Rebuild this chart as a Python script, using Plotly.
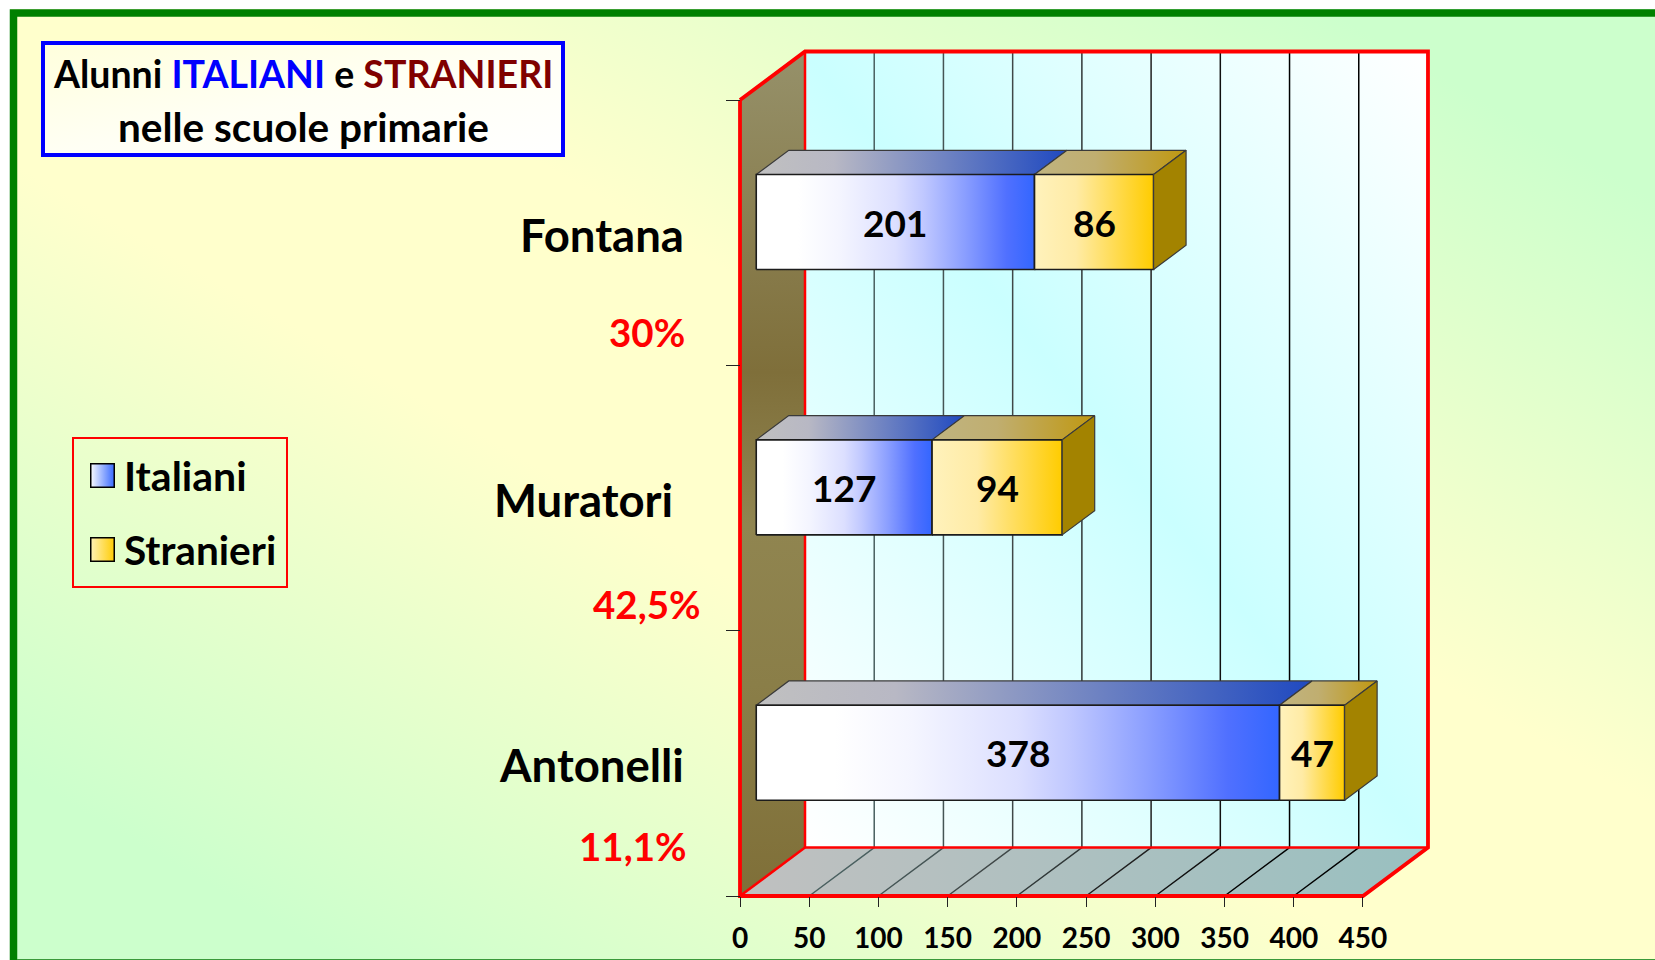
import base64
import plotly.graph_objects as go

# ---------- data ----------
categories = ["Antonelli", "Muratori", "Fontana"]
italiani = [378, 127, 201]
stranieri = [47, 94, 86]
percentuali = ["11,1%", "42,5%", "30%"]
x_ticks = [0, 50, 100, 150, 200, 250, 300, 350, 400, 450]
series_names = ["Italiani", "Stranieri"]
grid_colors = ["#4A6060", "#455555", "#404848", "#303838", "#202020", "#101010", "#000000", "#000000"]

# ---------- geometry ----------
W, H = 1655, 960
X0_PX, UNIT_PX = 740.0, 1.3844      # x value 0 position and px per unit
Y0_PX, SLOT_PX = 896.0, 265.33      # y slot 0 position and px per slot
WALL_DX = 65 / UNIT_PX
WALL_DY = 48.5 / SLOT_PX
BAR_FRONT = 0.25
BAR_DEPTH = 0.50
BAR_H = 95 / SLOT_PX
BAR_SHIFT = -1.5 / SLOT_PX
FONT = "Lato"


def fx(p):
    return p / W


def fy(p):
    return 1 - p / H


def svg_gradient(stops, x1=0, y1=1, x2=1, y2=0, border=None):
    st = "".join(f'<stop offset="{o}" stop-color="{c}"/>' for o, c in stops)
    b = f'stroke="{border}" stroke-width="24"' if border else ""
    svg = (f'<svg xmlns="http://www.w3.org/2000/svg" width="200" height="200" preserveAspectRatio="none">'
           f'<defs><linearGradient id="g" x1="{x1}" y1="{y1}" x2="{x2}" y2="{y2}">{st}</linearGradient></defs>'
           f'<rect width="200" height="200" fill="url(#g)" {b}/></svg>')
    return "data:image/svg+xml;base64," + base64.b64encode(svg.encode()).decode()


fig = go.Figure()


def poly(xs, ys, grad, line_color=None, line_width=1, gtype="horizontal"):
    fig.add_trace(go.Scatter(
        x=list(xs) + [xs[0]], y=list(ys) + [ys[0]], mode="lines", fill="toself",
        fillgradient=dict(type=gtype, colorscale=grad),
        line=dict(color=line_color or "rgba(0,0,0,0)", width=line_width),
        hoverinfo="skip", showlegend=False))


X_END = x_ticks[-1]
Y_END = len(categories)

# left wall (gradient runs from the floor upward)
poly([0, WALL_DX, WALL_DX, 0], [0, WALL_DY, Y_END + WALL_DY, Y_END],
     [[0, "#7F6F38"], [0.25, "#8A7E48"], [0.44, "#908550"], [0.62, "#7F6F3A"], [1, "#96916A"]],
     gtype="vertical")
# floor
poly([0, X_END, X_END + WALL_DX, WALL_DX], [0, 0, WALL_DY, WALL_DY],
     [[0, "#C0C0C0"], [1, "#99C0C0"]])

# grid on back wall and floor
for v, c in zip(x_ticks[1:-1], grid_colors):
    fig.add_trace(go.Scatter(
        x=[v, v + WALL_DX, v + WALL_DX], y=[0, WALL_DY, Y_END + WALL_DY], mode="lines",
        line=dict(color=c, width=1.5), hoverinfo="skip", showlegend=False))

# red edges
fig.add_trace(go.Scatter(
    x=[0, WALL_DX, X_END + WALL_DX, X_END + WALL_DX, X_END, 0, 0],
    y=[Y_END, Y_END + WALL_DY, Y_END + WALL_DY, WALL_DY, 0, 0, Y_END],
    mode="lines", line=dict(color="#FF0000", width=3.8), hoverinfo="skip", showlegend=False))
fig.add_trace(go.Scatter(
    x=[WALL_DX, WALL_DX, X_END + WALL_DX, None, WALL_DX, 0],
    y=[Y_END + WALL_DY, WALL_DY, WALL_DY, None, WALL_DY, 0],
    mode="lines", line=dict(color="#FF0000", width=2.5), hoverinfo="skip", showlegend=False))

# 3-D stacked bars
front_dx, front_dy = WALL_DX * BAR_FRONT, WALL_DY * BAR_FRONT
depth_dx, depth_dy = WALL_DX * BAR_DEPTH, WALL_DY * BAR_DEPTH
face = {
    "Italiani": [[0, "#FFFFFF"], [0.15, "#FFFFFF"], [0.3, "#F4F5FF"], [0.5, "#DCDFFF"],
                 [0.6, "#C0C8FF"], [0.75, "#8A9EFF"], [0.9, "#5070FF"], [1, "#3366FF"]],
    "Stranieri": [[0, "#FFF2BC"], [0.35, "#FFEBA5"], [1, "#FFCC00"]],
}
top = {
    "Italiani": [[0, "#C0C0C0"], [0.25, "#B8B8C4"], [1, "#1F49C0"]],
    "Stranieri": [[0, "#C0B480"], [0.4, "#C0AE70"], [1, "#C09810"]],
}
SIDE = [[0, "#A38300"], [1, "#A38300"]]
EDGE = "#1C1C1C"
ann = []
for k in range(len(categories)):
    start = 0
    y0 = k + 0.5 - BAR_H / 2 + front_dy + BAR_SHIFT
    y1 = y0 + BAR_H
    for name, vals in zip(series_names, [italiani, stranieri]):
        v = vals[k]
        a = start + front_dx
        b = start + v + front_dx
        poly([a, b, b + depth_dx, a + depth_dx], [y1, y1, y1 + depth_dy, y1 + depth_dy],
             top[name], "#3A3A3A", 1.2)
        poly([a, b, b, a], [y0, y0, y1, y1], face[name], EDGE, 1.6)
        ann.append(dict(text=str(v), x=(a + b) / 2, y=(y0 + y1) / 2, xref="x", yref="y",
                        xanchor="center", yanchor="middle", showarrow=False,
                        font=dict(family=FONT, size=37, color="#000000", weight="bold")))
        start += v
    end = start + front_dx
    poly([end, end + depth_dx, end + depth_dx, end],
         [y0, y0 + depth_dy, y1 + depth_dy, y1], SIDE, "#3A3A3A", 1.2)


# ---------- texts ----------
def note(text, x_px, y_px, size, color="#000000", anchor="center"):
    ann.append(dict(text=text, x=fx(x_px), y=fy(y_px), xref="paper", yref="paper",
                    xanchor=anchor, yanchor="middle", showarrow=False,
                    font=dict(family=FONT, size=size, color=color, weight="bold")))


note("Alunni <span style='color:#0000FF'>ITALIANI</span> e "
     "<span style='color:#800000'>STRANIERI</span>", 303, 73.5, 37.5)
note("nelle scuole primarie", 303, 126.5, 40.5)
for cat, pct, rx, ry, prx, pry in zip(categories, percentuali,
                                      [686, 675, 686], [764, 499.5, 234.5],
                                      [689, 703, 687], [846, 604, 332]):
    note(cat, rx, ry, 45.5, anchor="right")
    note(pct, prx, pry, 38.5, "#FF0000", anchor="right")
note("Italiani", 122, 475, 41, anchor="left")
note("Stranieri", 122, 549, 40.6, anchor="left")

# ---------- decorations ----------
images = [
    dict(source=svg_gradient([(0.1, "#CCFFCC"), (0.42, "#FFFFCC"), (0.58, "#FFFFCC"), (0.9, "#CCFFCC")]),
         xref="paper", yref="paper", x=fx(10), y=fy(9), sizex=fx(W - 10), sizey=1 - 9 / H,
         sizing="stretch", xanchor="left", yanchor="top", layer="below"),
    dict(source=svg_gradient([(0.0, "#FFFFFF"), (0.5, "#CAFFFF"), (1.0, "#FFFFFF")]),
         xref="x", yref="y", x=WALL_DX, y=Y_END + WALL_DY, sizex=X_END, sizey=Y_END,
         sizing="stretch", xanchor="left", yanchor="top", layer="below"),
    dict(source=svg_gradient([(0, "#FFFFDC"), (0.5, "#FFFFF4"), (1, "#FFFFFF")], 0, 0, 1, 1),
         xref="paper", yref="paper", x=fx(43), y=fy(43), sizex=fx(520), sizey=112 / H,
         sizing="stretch", xanchor="left", yanchor="top", layer="below"),
    dict(source=svg_gradient([(0, "#FFFFFF"), (1, "#3366FF")], 0, 0, 1, 0, "#000000"),
         xref="paper", yref="paper", x=fx(90), y=fy(463), sizex=fx(25), sizey=25 / H,
         sizing="stretch", xanchor="left", yanchor="top", layer="above"),
    dict(source=svg_gradient([(0, "#FFF2BC"), (1, "#FFCC00")], 0, 0, 1, 0, "#000000"),
         xref="paper", yref="paper", x=fx(90), y=fy(537), sizex=fx(25), sizey=25 / H,
         sizing="stretch", xanchor="left", yanchor="top", layer="above"),
]


def rect(x0, y0, x1, y1, color, width):
    return dict(type="rect", xref="paper", yref="paper", x0=fx(x0), x1=fx(x1), y0=fy(y0), y1=fy(y1),
                line=dict(color=color, width=width), fillcolor="rgba(0,0,0,0)", layer="above")


shapes = [
    rect(13.5, 13, W + 30, H + 30, "#008000", 7.5),
    dict(type="line", xref="paper", yref="paper", x0=fx(17), x1=1, y0=fy(959.5), y1=fy(959.5),
         line=dict(color="#3A9A3A", width=1), layer="above"),
    rect(43, 43, 563, 155, "#0000FF", 4),
    rect(73, 438, 287, 587, "#FF0000", 2),
]

fig.update_layout(
    width=W, height=H, margin=dict(l=0, r=0, t=0, b=0, pad=0), autosize=False,
    paper_bgcolor="#FFFFFF", plot_bgcolor="rgba(0,0,0,0)", showlegend=False, hovermode=False,
    images=images, shapes=shapes, annotations=ann,
    xaxis=dict(range=[-X0_PX / UNIT_PX, (W - X0_PX) / UNIT_PX], domain=[0, 1],
               anchor="free", position=fy(Y0_PX), tickmode="array", tickvals=x_ticks,
               ticks="outside", ticklen=10, tickwidth=1, tickcolor="#222222",
               ticklabelstandoff=7, showgrid=False, zeroline=False, showline=False,
               tickfont=dict(family=FONT, size=28, color="#000000", weight="bold")),
    yaxis=dict(range=[(Y0_PX - H) / SLOT_PX, Y0_PX / SLOT_PX], domain=[0, 1],
               anchor="free", position=fx(X0_PX), tickmode="array", tickvals=[0, 1, 2, 3],
               ticks="outside", ticklen=14, tickwidth=1, tickcolor="#222222",
               showticklabels=False, showgrid=False, zeroline=False, showline=False),
)

fig.write_html("out.html", config=dict(displayModeBar=False),
               post_script="document.body.style.margin='0';document.documentElement.style.overflow='hidden';")
